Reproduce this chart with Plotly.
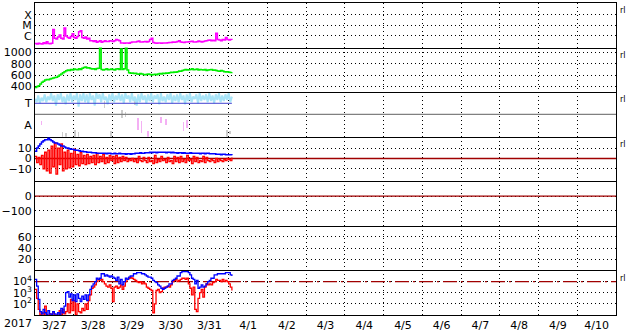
import pandas as pd
import plotly.graph_objects as go
from plotly.subplots import make_subplots

# ---------------- data (hourly samples from 2017-03-27 00:00) ----------------
start = pd.Timestamp("2017-03-27 00:00")
x_range = ["2017-03-27 00:00", "2017-04-11 00:00"]

# GOES X-ray flux, in units of 1e-7 W/m^2
xray_1e7 = [1.9,1.7,2.0,1.8,1.7,2.3,1.9,2.8,1.9,1.8,
            2.0,40,6,5,8,12,6,5,55,10,
            7,6,9,16,7,6,9,25,30,7,
            6,8,5,6,3.5,3.5,3,3.5,2.5,3,
            3.5,2.5,3,3.5,3,3,3.5,3.3,3,3.5,
            4.5,4,3.5,2.2,2.1,2.0,2.1,2.2,2.0,2.4,
            2.6,2.7,2.6,3,3.3,2.7,2.6,2.8,3,2.7,
            3,4.5,6,2.4,2.1,2.0,2.1,2.2,2.0,2.1,
            2.2,2.1,2.3,2.4,2.4,2.6,2.5,2.7,3,3.5,
            2.6,2.5,2.4,2.6,2.7,2.8,3,3.1,2.7,2.6,
            2.8,3.3,3,2.7,3,3.3,3.5,3.8,4,3.5,
            3.8,3.5,18,4.5,4,3.5,4.5,4,7,4.5,
            4,4.5,4]

# solar wind speed (km/s)
speed = [380,395,410,440,470, 490,510,520,515,530, 540,545,555,560,580,
         600,620,640,660,675, 690,680,700,690,705, 700,695,710,700,720,
         735,740,725,730,715, 705,710,700,715,720, 1100,700,
         690,700,710,695,700,705, 700,690,705,710,700,
         1060,700,710,1100,690, 640,630,635,625,630, 620,615,625,620,610,
         605,615,620,610,600, 610,615,605,620,625, 620,630,625,635,630,
         640,650,645,655,650, 660,670,665,680,690, 700,690,695,700,710,
         695,700,705,690,700, 695,690,700,680,690, 695,700,685,690,680,
         670,665,680,670,660, 655,660,650,645,650]

# "T" band (light blue) in panel-3 units (A=1, divider=2, T=3)
t_band = [3.4,3.1,3.7,3.0,3.5,3.2,3.8,3.1,3.6,3.3,
          3.9,3.2,3.7,2.8,3.8,3.3,3.9,3.1,3.6,2.9,
          3.8,3.2,3.9,3.1,3.7,3.3,3.9,2.7,3.8,3.2,
          3.9,3.1,3.8,3.0,3.9,3.3,3.7,2.8,3.9,3.4,
          3.8,3.1,3.9,3.3,3.6,2.9,3.8,3.2,3.9,3.1,
          3.7,3.3,3.9,3.2,3.8,3.0,3.9,3.4,3.7,3.1,
          3.9,3.2,3.6,2.8,3.8,3.1,3.9,3.3,3.7,3.0,
          3.8,3.2,3.9,3.1,3.7,3.4,3.8,2.9,3.9,3.2,
          3.6,3.1,3.8,3.3,3.9,3.0,3.7,3.2,3.8,3.1,
          3.9,3.3,3.7,2.9,3.8,3.2,3.9,3.1,3.6,3.4,
          3.8,3.0,3.9,3.2,3.7,3.3,3.8,3.1,3.9,3.2,
          3.7,3.0,3.8,3.3,3.9,3.1,3.7,3.2,3.8,3.3,
          3.9,3.1,3.6]
T_level, divider_level, A_level = 3, 2, 1

gray_hours = [17, 19, 25, 27, 43, 47, 54, 56, 62, 119, 121]
gray_lo    = [0, 0, 0, 0, 2.6, 0, 1.7, 1.8, 2.8, 0, 0.2]
gray_hi    = [0.4, 0.3, 0.6, 0.4, 3.2, 0.5, 2.4, 2.2, 3.3, 0.6, 0.5]
pink_hours = [4, 64, 66, 70, 78, 81, 92, 94]
pink_lo    = [1.0, 0.6, 0.3, 0.0, 1.2, 1.0, 0.5, 0.8]
pink_hi    = [1.4, 1.7, 1.4, 0.5, 1.8, 1.6, 1.3, 1.5]

# IMF (nT)
bt = [7,10,12,14,16,17,18,18,19.5,18,
      17,16,15,15,14,13,12,12,11,10,
      10,9.5,9,9,8.5,8,8,7.5,7,7,
      6.5,6.5,6,6,6,5.5,5.5,5.5,5,5,
      5,5,5,5,4.5,5,5,4.5,4.5,5,
      4.5,4.5,5,4.5,4.5,4.5,4,4.5,4.5,4,
      4.5,4.5,5,5,5,5.5,5,5,5.5,5.5,
      5.5,6,5.5,6,6,5.5,6,6,6,6,
      6,5.5,6,6,5.5,6,5.5,5.5,5,5.5,
      5.5,5,5.5,5,5,5,5.5,5,5,5,
      5,5,4.5,5,5,4.5,5,5,4.5,4.5,
      4.5,4.5,4,4,4,3.5,4,4,3.5,3.5,
      3.5,3.5,3]
bz = [2,-4,1,-6,3,-10,6,-12,8,-14,
      12,-8,15,-15,10,-6,14,-12,6,-10,
      8,-9,5,-8,9,-6,4,-7,6,-5,
      3,-6,4,-5,2,-4,3,-6,5,-4,
      2,-3,4,-5,1,-4,3,-2,2,-5,
      3,-4,1,-3,2,-2,1,-3,-1,-2,
      0,-3,-1,-4,2,-2,-3,1,-2,-4,
      1,-3,-2,-5,3,-4,-1,-3,2,-2,
      -1,-4,1,-3,-2,-5,2,-3,1,-4,
      2,-3,-1,-4,3,-2,-1,-5,2,-3,
      1,-4,-2,-3,2,-4,1,-2,-3,-1,
      -2,-4,0,-3,-1,-2,-3,-1,-2,0,
      -1,-2,1]

# electron flux, log10 values
e_blue_log = [4.2,3.6,2.4,1.3,1.1,1.5,1.2,1.0,1.4,1.1,
              1.0,1.3,1.1,0.9,1.2,1.0,1.6,1.2,1.8,3.0,
              3.1,2.6,2.9,2.3,2.8,2.2,2.9,2.5,2.2,2.7,
              2.4,2.8,2.3,2.8,3.3,3.6,3.8,4.0,4.3,4.2,
              4.3,4.7,4.7,4.5,4.6,4.5,4.4,4.5,4.4,4.3,
              4.1,4.4,3.8,4.2,3.7,4.0,4.3,4.2,4.4,4.5,
              4.5,4.7,4.7,4.8,4.8,4.8,4.7,4.7,4.6,4.5,
              4.4,4.4,4.3,4.1,4.0,3.9,3.7,3.6,3.4,3.3,
              3.4,3.5,3.6,3.8,3.8,4.1,4.2,4.3,4.5,4.5,
              4.8,4.9,4.9,4.9,4.9,4.8,4.6,4.3,4.2,3.8,
              4.1,3.4,3.5,3.7,3.5,3.6,3.8,4.0,4.1,4.3,
              4.3,4.6,4.6,4.7,4.7,4.7,4.7,4.7,4.8,4.8,
              4.8,4.6,4.5]
e_red_log = [3.3,2.5,1.5,1.0,1.2,0.9,1.8,1.0,0.8,1.1,
             0.9,1.3,0.8,1.0,0.9,1.4,1.0,1.5,1.1,1.3,
             2.0,1.2,2.4,1.4,2.3,1.0,2.0,1.3,1.2,1.6,
             1.4,2.0,1.5,2.3,2.8,3.4,3.5,3.7,4.0,4.2,
             4.1,4.2,4.0,3.8,3.6,3.5,3.7,3.4,2.2,3.5,
             3.6,3.4,3.5,3.7,3.3,3.6,4.0,4.2,4.3,4.4,
             4.3,4.2,4.1,4.0,3.9,4.0,3.8,3.9,3.8,3.5,
             3.4,3.3,3.2,1.2,2.0,3.2,3.3,3.0,3.1,3.4,
             3.5,3.5,3.6,3.5,3.7,4.0,4.1,4.2,4.0,4.1,
             4.2,4.3,4.3,4.2,4.3,3.8,3.4,2.8,3.5,1.5,
             1.3,2.5,3.0,3.3,2.6,3.5,3.8,3.7,3.8,3.7,
             3.9,4.0,4.2,4.1,4.1,4.0,4.2,4.0,4.1,4.0,
             3.8,3.5,3.2]
e_threshold = 1e4

# ---------------- helpers ----------------
def hours(n):
    return [start + pd.Timedelta(hours=i) for i in range(n)]

def at(hrs):
    return [start + pd.Timedelta(hours=h) for h in hrs]

FONT = "DejaVu Sans, Verdana, sans-serif"
DOT = "1px,3px"
DARKRED = "#a00000"

fig = make_subplots(rows=7, cols=1, shared_xaxes=True, vertical_spacing=0)

# panel 1: X-ray
fig.add_trace(go.Scatter(x=hours(len(xray_1e7)), y=[v * 1e-7 for v in xray_1e7],
                         mode="lines", line=dict(color="#ff00ff", width=1.5, shape="hv")), 1, 1)
# panel 2: speed
fig.add_trace(go.Scatter(x=hours(len(speed)), y=speed, mode="lines",
                         line=dict(color="#00ee00", width=1.5, shape="hv")), 2, 1)
# panel 3
fig.add_trace(go.Scatter(x=hours(len(t_band)), y=t_band, mode="lines",
                         line=dict(color="#a8e4f8", width=2)), 3, 1)
tb = hours(len(t_band))
fig.add_trace(go.Scatter(x=[tb[0], tb[-1]], y=[T_level, T_level], mode="lines",
                         line=dict(color="#4040d0", width=1)), 3, 1)
fig.add_trace(go.Scatter(x=x_range, y=[divider_level, divider_level], mode="lines",
                         line=dict(color="#808080", width=1.3)), 3, 1)
fig.add_trace(go.Bar(x=at(gray_hours), y=[h - l for h, l in zip(gray_hi, gray_lo)], base=gray_lo,
                     width=1.6e6, marker=dict(color="#cccccc", line=dict(width=0))), 3, 1)
fig.add_trace(go.Bar(x=at(pink_hours), y=[h - l for h, l in zip(pink_hi, pink_lo)], base=pink_lo,
                     width=1.6e6, marker=dict(color="#f4b0f4", line=dict(width=0))), 3, 1)
# panel 4: IMF
fig.add_trace(go.Scatter(x=x_range, y=[0, 0], mode="lines", line=dict(color=DARKRED, width=1.3)), 4, 1)
fig.add_trace(go.Scatter(x=hours(len(bz)), y=bz, mode="lines",
                         line=dict(color="#ff0000", width=1.3, shape="hv")), 4, 1)
fig.add_trace(go.Scatter(x=hours(len(bt)), y=bt, mode="lines",
                         line=dict(color="#0000ff", width=1.5, shape="hv")), 4, 1)
# panel 5: Dst zero line
fig.add_trace(go.Scatter(x=x_range, y=[0, 0], mode="lines", line=dict(color=DARKRED, width=1.3)), 5, 1)
# panel 6: empty (no data)
fig.add_trace(go.Scatter(x=x_range, y=[None, None], mode="lines"), 6, 1)
# panel 7: electrons
fig.add_trace(go.Scatter(x=x_range, y=[e_threshold, e_threshold], mode="lines",
                         line=dict(color=DARKRED, width=1.3, dash="14px,4px,2px,4px")), 7, 1)
fig.add_trace(go.Scatter(x=hours(len(e_red_log)), y=[10 ** v for v in e_red_log], mode="lines",
                         line=dict(color="#ff0000", width=1.3, shape="hv")), 7, 1)
fig.add_trace(go.Scatter(x=hours(len(e_blue_log)), y=[10 ** v for v in e_blue_log], mode="lines",
                         line=dict(color="#0000ff", width=1.3, shape="hv")), 7, 1)

# ---------------- axes ----------------
yspec = {
    1: dict(type="log", range=[-7.1, -2.9], tickvals=[1e-6, 1e-5, 1e-4], ticktext=["C", "M", "X"], showgrid=True),
    2: dict(range=[296, 1087], tickvals=[400, 600, 800, 1000], showgrid=True),
    3: dict(range=[0, 4], tickvals=[A_level, T_level], ticktext=["A", "T"], showgrid=False),
    4: dict(range=[-22, 21], tickvals=[-10, 0, 10], showgrid=True),
    5: dict(range=[-200, 100], tickvals=[-100, 0], showgrid=True),
    6: dict(range=[0, 80], tickvals=[20, 40, 60], showgrid=True),
    7: dict(type="log", range=[1, 5], tickvals=[1e2, 1e3, 1e4],
            ticktext=["10<sup>2</sup>", "10<sup>3</sup>", "10<sup>4</sup>"], showgrid=True),
}
for r, spec in yspec.items():
    fig.update_yaxes(row=r, col=1, showline=True, mirror=True, linecolor="black", linewidth=1,
                     ticks="", zeroline=False, gridcolor="black", griddash=DOT, gridwidth=1,
                     fixedrange=True, tickfont=dict(family=FONT, size=11, color="black"), **spec)
    fig.update_xaxes(row=r, col=1, type="date", range=x_range, dtick=86400000, tick0="2017-03-27",
                     showgrid=True, gridcolor="black", griddash=DOT, gridwidth=1,
                     showline=True, mirror=(r == 1), linecolor="black", linewidth=1, ticks="",
                     zeroline=False, showticklabels=(r == 7))
fig.update_xaxes(row=7, col=1, ticklabelmode="period", tickformat="%-m/%-d",
                 tickfont=dict(family=FONT, size=11, color="black"))

# small right-side markers and year label
for r in [1, 2, 3, 4, 7]:
    yref = "y domain" if r == 1 else f"y{r} domain"
    fig.add_annotation(text="rl", xref="paper", x=1.004, xanchor="left", yref=yref, y=0.83,
                       yanchor="middle", showarrow=False, font=dict(family=FONT, size=8, color="black"))
fig.add_annotation(text="2017", xref="paper", x=-0.029, xanchor="center", yref="paper", y=-0.028,
                   yanchor="middle", showarrow=False, font=dict(family=FONT, size=11, color="black"))

fig.update_layout(width=633, height=334, margin=dict(l=32, r=17, t=2, b=17),
                  paper_bgcolor="white", plot_bgcolor="white", showlegend=False,
                  barmode="overlay", bargap=0)
fig.write_html("out.html")
